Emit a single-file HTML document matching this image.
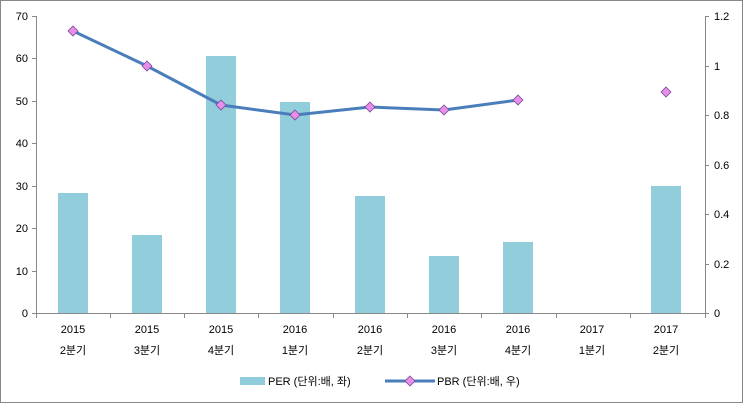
<!DOCTYPE html>
<html><head><meta charset="utf-8"><style>
body{margin:0;background:#fff;}
text{font-family:"Liberation Sans","Noto Sans CJK KR",sans-serif;font-size:11px;fill:#000;}
</style></head><body>
<svg width="743" height="403" viewBox="0 0 743 403" xmlns="http://www.w3.org/2000/svg">
<rect x="0.5" y="0.5" width="742" height="402" fill="#fff" stroke="#888"/>
<g stroke="#888" stroke-width="1">
<line x1="36.5" y1="16" x2="36.5" y2="313"/>
<line x1="705.5" y1="16" x2="705.5" y2="313"/>
<line x1="36" y1="313.5" x2="705" y2="313.5"/>
</g>
<g stroke="#888">
<line x1="32" y1="16.5" x2="36" y2="16.5"/><line x1="32" y1="58.5" x2="36" y2="58.5"/><line x1="32" y1="101.5" x2="36" y2="101.5"/><line x1="32" y1="143.5" x2="36" y2="143.5"/><line x1="32" y1="186.5" x2="36" y2="186.5"/><line x1="32" y1="228.5" x2="36" y2="228.5"/><line x1="32" y1="271.5" x2="36" y2="271.5"/><line x1="32" y1="313.5" x2="36" y2="313.5"/>
<line x1="705" y1="16.5" x2="709" y2="16.5"/><line x1="705" y1="66.5" x2="709" y2="66.5"/><line x1="705" y1="115.5" x2="709" y2="115.5"/><line x1="705" y1="165.5" x2="709" y2="165.5"/><line x1="705" y1="214.5" x2="709" y2="214.5"/><line x1="705" y1="264.5" x2="709" y2="264.5"/><line x1="705" y1="313.5" x2="709" y2="313.5"/>
<line x1="110.5" y1="313" x2="110.5" y2="318"/><line x1="184.5" y1="313" x2="184.5" y2="318"/><line x1="258.5" y1="313" x2="258.5" y2="318"/><line x1="333.5" y1="313" x2="333.5" y2="318"/><line x1="407.5" y1="313" x2="407.5" y2="318"/><line x1="481.5" y1="313" x2="481.5" y2="318"/><line x1="556.5" y1="313" x2="556.5" y2="318"/><line x1="630.5" y1="313" x2="630.5" y2="318"/><line x1="36.5" y1="313" x2="36.5" y2="318"/><line x1="705.5" y1="313" x2="705.5" y2="318"/>
</g>
<g text-anchor="end">
<text x="28" y="20">70</text><text x="28" y="62">60</text><text x="28" y="105">50</text><text x="28" y="147">40</text><text x="28" y="190">30</text><text x="28" y="232">20</text><text x="28" y="275">10</text><text x="28" y="317">0</text>
</g>
<g text-anchor="start">
<text x="714" y="20">1.2</text><text x="714" y="70">1</text><text x="714" y="119">0.8</text><text x="714" y="169">0.6</text><text x="714" y="218">0.4</text><text x="714" y="268">0.2</text><text x="714" y="317">0</text>
</g>
<g fill="#92CDDC">
<rect x="58" y="193" width="30" height="120"/>
<rect x="132" y="235" width="30" height="78"/>
<rect x="206" y="56" width="30" height="257"/>
<rect x="280" y="102" width="30" height="211"/>
<rect x="355" y="196" width="30" height="117"/>
<rect x="429" y="256" width="30" height="57"/>
<rect x="503" y="242" width="30" height="71"/>
<rect x="651" y="186" width="30" height="127"/>
</g>
<polyline fill="none" stroke="#4A7EBB" stroke-width="3" points="73,31 147,66 221,105 295,115 370,107 444,110 518,100"/>
<g fill="#E88EE8" stroke="#7a4a9a" stroke-width="0.8">
<path d="M73,26 l5,5 -5,5 -5,-5z"/><path d="M147,61 l5,5 -5,5 -5,-5z"/><path d="M221,100 l5,5 -5,5 -5,-5z"/><path d="M295,110 l5,5 -5,5 -5,-5z"/><path d="M370,102 l5,5 -5,5 -5,-5z"/><path d="M444,105 l5,5 -5,5 -5,-5z"/><path d="M518,95 l5,5 -5,5 -5,-5z"/><path d="M666,87 l5,5 -5,5 -5,-5z"/>
</g>
<g text-anchor="middle">
<text x="73" y="333">2015</text><text x="73" y="354">2분기</text>
<text x="147" y="333">2015</text><text x="147" y="354">3분기</text>
<text x="221" y="333">2015</text><text x="221" y="354">4분기</text>
<text x="295" y="333">2016</text><text x="295" y="354">1분기</text>
<text x="370" y="333">2016</text><text x="370" y="354">2분기</text>
<text x="444" y="333">2016</text><text x="444" y="354">3분기</text>
<text x="518" y="333">2016</text><text x="518" y="354">4분기</text>
<text x="592" y="333">2017</text><text x="592" y="354">1분기</text>
<text x="666" y="333">2017</text><text x="666" y="354">2분기</text>
</g>
<rect x="240" y="377" width="25" height="8" fill="#92CDDC"/>
<text x="268" y="385">PER (단위:배, 좌)</text>
<line x1="385" y1="381" x2="435" y2="381" stroke="#4A7EBB" stroke-width="3"/>
<path d="M410,376 l5,5 -5,5 -5,-5z" fill="#E88EE8" stroke="#7a4a9a" stroke-width="0.8"/>
<text x="437" y="385">PBR (단위:배, 우)</text>
</svg>
</body></html>
